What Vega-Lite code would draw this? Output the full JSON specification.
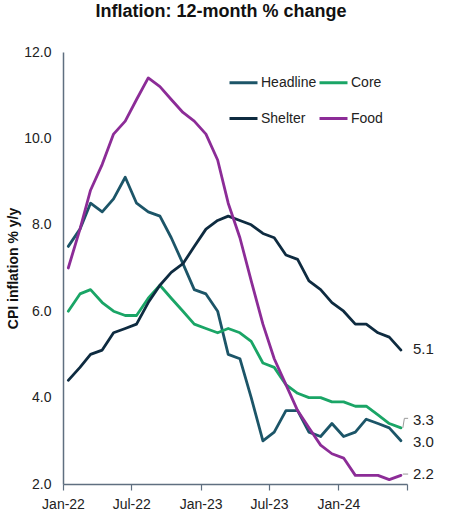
{
  "$schema": "https://vega.github.io/schema/vega-lite/v6.json",
  "width": 344,
  "height": 432,
  "autosize": "none",
  "padding": {"left": 63, "top": 52, "right": 43, "bottom": 27},
  "background": "white",
  "config": {
    "view": {"stroke": null},
    "font": "Liberation Sans, Arial, sans-serif"
  },
  "title": {
    "text": "Inflation: 12-month % change",
    "fontSize": 18,
    "fontWeight": "bold",
    "color": "#111111",
    "font": "Liberation Sans, Arial, sans-serif",
    "anchor": "middle",
    "dx": -14,
    "offset": 24
  },
  "datasets": {
    "cpi": [
      {"date": "2022-01-15", "Headline": 7.5, "Core": 6.0, "Shelter": 4.4, "Food": 7.0},
      {"date": "2022-02-15", "Headline": 7.9, "Core": 6.4, "Shelter": 4.7, "Food": 7.9},
      {"date": "2022-03-15", "Headline": 8.5, "Core": 6.5, "Shelter": 5.0, "Food": 8.8},
      {"date": "2022-04-15", "Headline": 8.3, "Core": 6.2, "Shelter": 5.1, "Food": 9.4},
      {"date": "2022-05-15", "Headline": 8.6, "Core": 6.0, "Shelter": 5.5, "Food": 10.1},
      {"date": "2022-06-15", "Headline": 9.1, "Core": 5.9, "Shelter": 5.6, "Food": 10.4},
      {"date": "2022-07-15", "Headline": 8.5, "Core": 5.9, "Shelter": 5.7, "Food": 10.9},
      {"date": "2022-08-15", "Headline": 8.3, "Core": 6.3, "Shelter": 6.2, "Food": 11.4},
      {"date": "2022-09-15", "Headline": 8.2, "Core": 6.6, "Shelter": 6.6, "Food": 11.2},
      {"date": "2022-10-15", "Headline": 7.7, "Core": 6.3, "Shelter": 6.9, "Food": 10.9},
      {"date": "2022-11-15", "Headline": 7.1, "Core": 6.0, "Shelter": 7.1, "Food": 10.6},
      {"date": "2022-12-15", "Headline": 6.5, "Core": 5.7, "Shelter": 7.5, "Food": 10.4},
      {"date": "2023-01-15", "Headline": 6.4, "Core": 5.6, "Shelter": 7.9, "Food": 10.1},
      {"date": "2023-02-15", "Headline": 6.0, "Core": 5.5, "Shelter": 8.1, "Food": 9.5},
      {"date": "2023-03-15", "Headline": 5.0, "Core": 5.6, "Shelter": 8.2, "Food": 8.5},
      {"date": "2023-04-15", "Headline": 4.9, "Core": 5.5, "Shelter": 8.1, "Food": 7.7},
      {"date": "2023-05-15", "Headline": 4.0, "Core": 5.3, "Shelter": 8.0, "Food": 6.7},
      {"date": "2023-06-15", "Headline": 3.0, "Core": 4.8, "Shelter": 7.8, "Food": 5.7},
      {"date": "2023-07-15", "Headline": 3.2, "Core": 4.7, "Shelter": 7.7, "Food": 4.9},
      {"date": "2023-08-15", "Headline": 3.7, "Core": 4.3, "Shelter": 7.3, "Food": 4.3},
      {"date": "2023-09-15", "Headline": 3.7, "Core": 4.1, "Shelter": 7.2, "Food": 3.7},
      {"date": "2023-10-15", "Headline": 3.2, "Core": 4.0, "Shelter": 6.7, "Food": 3.3},
      {"date": "2023-11-15", "Headline": 3.1, "Core": 4.0, "Shelter": 6.5, "Food": 2.9},
      {"date": "2023-12-15", "Headline": 3.4, "Core": 3.9, "Shelter": 6.2, "Food": 2.7},
      {"date": "2024-01-15", "Headline": 3.1, "Core": 3.9, "Shelter": 6.0, "Food": 2.6},
      {"date": "2024-02-15", "Headline": 3.2, "Core": 3.8, "Shelter": 5.7, "Food": 2.2},
      {"date": "2024-03-15", "Headline": 3.5, "Core": 3.8, "Shelter": 5.7, "Food": 2.2},
      {"date": "2024-04-15", "Headline": 3.4, "Core": 3.6, "Shelter": 5.5, "Food": 2.2},
      {"date": "2024-05-15", "Headline": 3.3, "Core": 3.4, "Shelter": 5.4, "Food": 2.1},
      {"date": "2024-06-15", "Headline": 3.0, "Core": 3.3, "Shelter": 5.1, "Food": 2.2}
    ],
    "labels": [
      {"date": "2024-06-15", "pos": 5.13, "label": "5.1"},
      {"date": "2024-06-15", "pos": 3.48, "label": "3.3"},
      {"date": "2024-06-15", "pos": 2.97, "label": "3.0"},
      {"date": "2024-06-15", "pos": 2.23, "label": "2.2"}
    ],
    "leaders": [
      {"date": "2024-06-20", "pos": 3.3, "grp": "core"},
      {"date": "2024-06-24", "pos": 3.52, "grp": "core"},
      {"date": "2024-07-04", "pos": 3.52, "grp": "core"},
      {"date": "2024-06-20", "pos": 2.23, "grp": "food"},
      {"date": "2024-07-04", "pos": 2.23, "grp": "food"}
    ]
  },
  "layer": [
    {
      "data": {"name": "cpi"},
      "transform": [
        {"fold": ["Headline", "Core", "Shelter", "Food"], "as": ["series", "value"]}
      ],
      "mark": {"type": "line", "strokeWidth": 2.8, "strokeJoin": "round", "strokeCap": "round"},
      "encoding": {
        "x": {
          "field": "date",
          "type": "temporal",
          "scale": {
            "type": "utc",
            "domain": [
              {"year": 2022, "month": 1, "date": 1, "utc": true},
              {"year": 2024, "month": 7, "date": 1, "utc": true}
            ]
          },
          "axis": {
            "title": null,
            "values": [
              {"year": 2022, "month": 1, "date": 1, "utc": true},
              {"year": 2022, "month": 7, "date": 1, "utc": true},
              {"year": 2023, "month": 1, "date": 1, "utc": true},
              {"year": 2023, "month": 7, "date": 1, "utc": true},
              {"year": 2024, "month": 1, "date": 1, "utc": true},
              {"year": 2024, "month": 7, "date": 1, "utc": true}
            ],
            "labelExpr": "utcyear(datum.value) == 2024 && utcmonth(datum.value) == 6 ? '' : utcFormat(datum.value, '%b-%y')",
            "grid": false,
            "domainColor": "#5f6f80",
            "domainWidth": 1.5,
            "tickColor": "#5f6f80",
            "tickWidth": 1.2,
            "tickSize": 6,
            "labelFontSize": 14,
            "labelColor": "#222222",
            "labelPadding": 7,
            "labelFlush": false,
            "labelOverlap": false
          }
        },
        "y": {
          "field": "value",
          "type": "quantitative",
          "scale": {"domain": [2, 12], "nice": false, "zero": false},
          "axis": {
            "title": "CPI inflation % y/y",
            "titleFontSize": 14,
            "titleFontWeight": "bold",
            "titleColor": "#111111",
            "titlePadding": 3,
            "values": [2, 4, 6, 8, 10, 12],
            "format": ".1f",
            "grid": false,
            "ticks": false,
            "domainColor": "#5f6f80",
            "domainWidth": 1.5,
            "labelFontSize": 14,
            "labelColor": "#222222",
            "labelPadding": 12
          }
        },
        "color": {
          "field": "series",
          "type": "nominal",
          "scale": {
            "domain": ["Headline", "Core", "Shelter", "Food"],
            "range": ["#1c5568", "#1aa566", "#0e2b40", "#8c2c97"]
          },
          "legend": {
            "title": null,
            "orient": "none",
            "legendX": 165,
            "legendY": 15,
            "columns": 2,
            "direction": "horizontal",
            "symbolType": "stroke",
            "symbolSize": 784,
            "symbolStrokeWidth": 3,
            "labelFontSize": 14,
            "labelColor": "#222222",
            "labelOffset": 2,
            "columnPadding": -4,
            "rowPadding": 13
          }
        }
      }
    },
    {
      "data": {"name": "leaders"},
      "mark": {"type": "line", "stroke": "#999999", "strokeWidth": 1, "clip": false},
      "encoding": {
        "x": {"field": "date", "type": "temporal"},
        "y": {"field": "pos", "type": "quantitative"},
        "detail": {"field": "grp"}
      }
    },
    {
      "data": {"name": "labels"},
      "mark": {"type": "text", "align": "left", "baseline": "middle", "dx": 12, "fontSize": 15, "color": "#222222"},
      "encoding": {
        "x": {"field": "date", "type": "temporal"},
        "y": {"field": "pos", "type": "quantitative"},
        "text": {"field": "label"}
      }
    }
  ]
}
